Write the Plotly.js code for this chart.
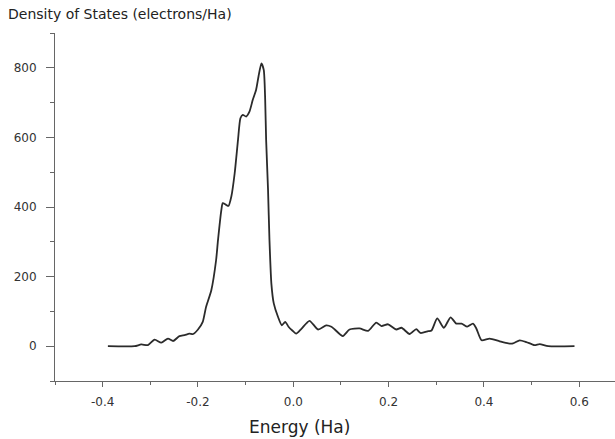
<!DOCTYPE html>
<html>
<head>
<meta charset="utf-8">
<script src="https://cdn.plot.ly/plotly-3.0.1.min.js"></script>
<style>html,body{margin:0;padding:0;background:#fff;}#chart{width:615px;height:439px;}</style>
</head>
<body>
<div id="chart"></div>
<script>
// Energy (Ha)
var energy = [-0.389,-0.333,-0.319,-0.305,-0.291,-0.277,-0.263,-0.252,-0.239,-0.228,-0.218,-0.210,-0.200,-0.190,-0.183,-0.172,-0.162,-0.158,-0.151,-0.148,-0.141,-0.136,-0.130,-0.123,-0.116,-0.111,-0.106,-0.099,-0.092,-0.085,-0.078,-0.073,-0.067,-0.062,-0.059,-0.057,-0.053,-0.050,-0.046,-0.041,-0.032,-0.024,-0.017,-0.010,-0.002,0.006,0.017,0.034,0.052,0.069,0.080,0.087,0.104,0.118,0.139,0.157,0.174,0.185,0.199,0.216,0.227,0.244,0.258,0.267,0.283,0.290,0.302,0.316,0.330,0.342,0.353,0.365,0.377,0.384,0.395,0.412,0.433,0.451,0.461,0.475,0.489,0.506,0.517,0.535,0.590];
// Density of states (electrons/Ha)
var dos = [0,0,5,3,19,10,22,15,29,32,36,35,48,70,113,161,247,305,391,411,406,403,430,497,593,655,665,660,674,708,737,775,813,794,708,593,449,305,180,123,84,60,70,56,45,36,50,73,48,60,56,48,29,48,51,44,68,58,63,48,53,35,49,38,43,45,80,53,83,65,65,56,65,51,17,22,14,8,8,17,12,3,6,0,0];
var xTickVals = [-0.4,-0.2,0.0,0.2,0.4,0.6];
var xTickText = ["-0.4","-0.2","0.0","0.2","0.4","0.6"];
var yTickVals = [0,200,400,600,800];
var yTickText = ["0","200","400","600","800"];

var fontFam = '"DejaVu Sans", Verdana, sans-serif';
var trace = {
  x: energy, y: dos, type: 'scatter', mode: 'lines',
  line: {color: '#2b2b2b', width: 1.8, shape: 'spline', smoothing: 0.6},
  hoverinfo: 'skip'
};
var layout = {
  width: 615, height: 439,
  margin: {l: 55, r: 0, t: 33, b: 58},
  paper_bgcolor: '#fff', plot_bgcolor: '#fff',
  showlegend: false,
  font: {family: fontFam, color: '#333', size: 11},
  title: {text: 'Density of States (electrons/Ha)', xref: 'container', yref: 'container',
          x: 0.013, xanchor: 'left', y: 0.968, yanchor: 'middle',
          font: {family: fontFam, size: 14, color: '#222'}},
  xaxis: {range: [-0.5, 0.675], tickvals: xTickVals, ticktext: xTickText,
          showline: true, linecolor: '#666', linewidth: 1, showgrid: false, zeroline: false,
          ticks: 'outside', ticklen: 5, tickcolor: '#666', ticklabelstandoff: 5,
          tickfont: {size: 12, color: '#333'},
          minor: {dtick: 0.1, tick0: 0, ticks: 'outside', ticklen: 3, tickcolor: '#666', showgrid: false}},
  yaxis: {range: [-100, 900], tickvals: yTickVals, ticktext: yTickText,
          showline: true, linecolor: '#666', linewidth: 1, showgrid: false, zeroline: false,
          ticks: 'outside', ticklen: 8, tickcolor: '#666', ticklabelstandoff: 7,
          tickfont: {size: 12, color: '#333'},
          minor: {dtick: 100, tick0: 0, ticks: 'outside', ticklen: 4, tickcolor: '#666', showgrid: false}},
  annotations: [{text: 'Energy (Ha)', xref: 'x', yref: 'paper', x: 0.013, y: -0.131,
                 xanchor: 'center', yanchor: 'middle', showarrow: false,
                 font: {family: fontFam, size: 17, color: '#222'}}]
};
Plotly.newPlot('chart', [trace], layout, {staticPlot: true, displayModeBar: false});
</script>
</body>
</html>
